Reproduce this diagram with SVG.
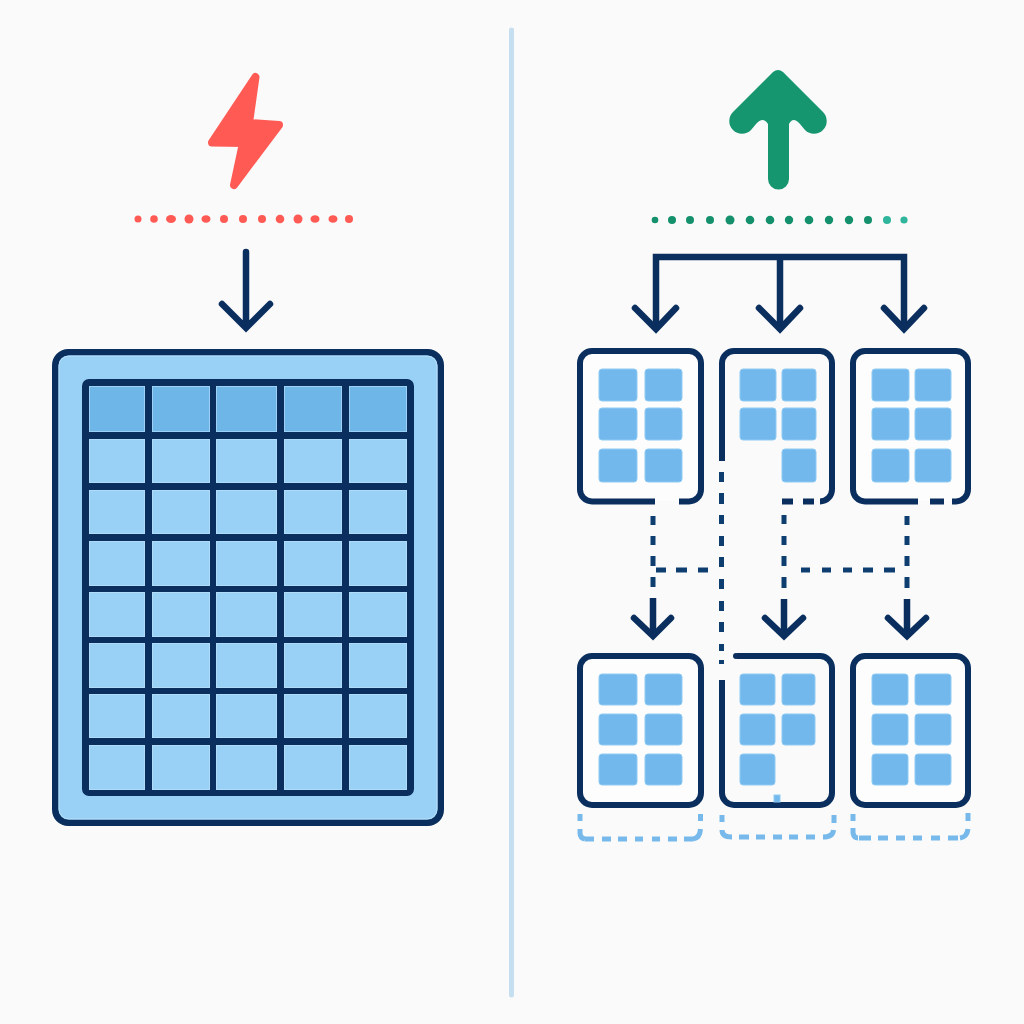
<svg xmlns="http://www.w3.org/2000/svg" width="1024" height="1024" viewBox="0 0 1024 1024">
<defs>
<style>
.ln{fill:none;stroke:#0A2F5E;stroke-width:6.500;stroke-linecap:round;stroke-linejoin:miter}
.dash{fill:none;stroke:#0E3E70;stroke-width:5;stroke-linecap:butt}
.card{fill:#FDFDFD;stroke:none}
.edge{fill:none;stroke:#0A2F5E;stroke-width:6;stroke-linecap:butt}
.sq{fill:#72B8EC;stroke:#8FCBF3;stroke-width:1}
.c{fill:#99D0F5;stroke:#B0DCF9;stroke-width:1}
.h{fill:#6EB5E8;stroke:#9DD2F6;stroke-width:1}
.tray{fill:none;stroke:#76B9EA;stroke-width:5;stroke-linecap:butt}
.r{fill:#FF5A54}
.g{fill:#15906C}
.t{fill:#2FB59B}
</style>
</defs>
<rect width="1024" height="1024" fill="#FAFAFA"/>
<line id="divider" x1="511.500" y1="30" x2="511.500" y2="995" stroke="#C5DFF0" stroke-width="5" stroke-linecap="round"/>

<g id="bolt"><path d="M255.500 77 L249 123 L279 125 L234 185 L243 143 L212 142.500 Z" fill="#FF5A54" stroke="#FF5A54" stroke-width="8" stroke-linejoin="round"/></g>
<g id="red-dots" class="r">
<circle cx="138" cy="219" r="3.500"/><circle cx="154" cy="219" r="3.800"/><ellipse cx="171" cy="219" rx="5" ry="4"/><circle cx="189" cy="219" r="4.500"/><ellipse cx="206" cy="219" rx="4.500" ry="3.800"/><circle cx="224" cy="219" r="4"/><circle cx="243" cy="219" r="4"/><circle cx="262" cy="219" r="4"/><circle cx="280" cy="219" r="4.300"/><circle cx="298" cy="219" r="4.500"/><ellipse cx="315" cy="219" rx="4.500" ry="3.800"/><ellipse cx="333" cy="219" rx="4.500" ry="3.800"/><circle cx="349" cy="219" r="4"/>
</g>

<g id="up-arrow"><path d="M773 72 Q778 68 783 72 L823 112 A12 12 0 0 1 805 130 L800 124 Q793 116 789 124 V179 A10.500 10.500 0 0 1 768 179 V124 Q763 116 756 124 L751 130 A12 12 0 0 1 733 112 Z" fill="#15966F"/></g>
<g id="green-dots">
<circle class="g" cx="655" cy="220" r="3.300"/><circle class="g" cx="672" cy="220" r="4"/><circle class="g" cx="690" cy="220" r="4"/><circle class="g" cx="710" cy="220" r="4"/><circle class="g" cx="730" cy="220" r="4.500"/><circle class="g" cx="750" cy="220" r="4.300"/><circle class="g" cx="770" cy="220" r="4.300"/><circle class="g" cx="789" cy="220" r="4.200"/><circle class="g" cx="809" cy="220" r="4.300"/><circle class="g" cx="829" cy="220" r="4.200"/><circle class="g" cx="849" cy="220" r="4.200"/><circle class="g" cx="868" cy="220" r="4"/><circle class="t" cx="887" cy="220" r="4"/><circle class="t" cx="904" cy="220" r="3.600"/>
</g>

<g id="monolith">
<rect x="55.250" y="352.250" width="385.500" height="470.500" rx="13" fill="#99D0F5" stroke="#0A2F5E" stroke-width="6.500"/>
<rect x="59" y="356" width="378" height="463" rx="10" fill="none" stroke="#B8E0FA" stroke-width="1"/>
<rect x="85" y="382" width="326" height="411" rx="4" fill="#0A2F5E" stroke="#0A2F5E" stroke-width="6"/>
<g class="h"><rect x="89.500" y="386.500" width="55" height="45"/><rect x="152.500" y="386.500" width="57" height="45"/><rect x="216.500" y="386.500" width="60" height="45"/><rect x="284.500" y="386.500" width="57" height="45"/><rect x="349.500" y="386.500" width="57" height="45"/></g>
<g class="c">
<rect x="89.500" y="439.500" width="55" height="43"/><rect x="152.500" y="439.500" width="57" height="43"/><rect x="216.500" y="439.500" width="60" height="43"/><rect x="284.500" y="439.500" width="57" height="43"/><rect x="349.500" y="439.500" width="57" height="43"/>
<rect x="89.500" y="490.500" width="55" height="43"/><rect x="152.500" y="490.500" width="57" height="43"/><rect x="216.500" y="490.500" width="60" height="43"/><rect x="284.500" y="490.500" width="57" height="43"/><rect x="349.500" y="490.500" width="57" height="43"/>
<rect x="89.500" y="541.500" width="55" height="44"/><rect x="152.500" y="541.500" width="57" height="44"/><rect x="216.500" y="541.500" width="60" height="44"/><rect x="284.500" y="541.500" width="57" height="44"/><rect x="349.500" y="541.500" width="57" height="44"/>
<rect x="89.500" y="592.500" width="55" height="44"/><rect x="152.500" y="592.500" width="57" height="44"/><rect x="216.500" y="592.500" width="60" height="44"/><rect x="284.500" y="592.500" width="57" height="44"/><rect x="349.500" y="592.500" width="57" height="44"/>
<rect x="89.500" y="643.500" width="55" height="44"/><rect x="152.500" y="643.500" width="57" height="44"/><rect x="216.500" y="643.500" width="60" height="44"/><rect x="284.500" y="643.500" width="57" height="44"/><rect x="349.500" y="643.500" width="57" height="44"/>
<rect x="89.500" y="694.500" width="55" height="43"/><rect x="152.500" y="694.500" width="57" height="43"/><rect x="216.500" y="694.500" width="60" height="43"/><rect x="284.500" y="694.500" width="57" height="43"/><rect x="349.500" y="694.500" width="57" height="43"/>
<rect x="89.500" y="745.500" width="55" height="44"/><rect x="152.500" y="745.500" width="57" height="44"/><rect x="216.500" y="745.500" width="60" height="44"/><rect x="284.500" y="745.500" width="57" height="44"/><rect x="349.500" y="745.500" width="57" height="44"/>
</g>
</g>

<g id="shard-top-1">
<rect class="card" x="580" y="351" width="121" height="150" rx="12"/>
<path class="edge" d="M655 501.500 H592 A12 12 0 0 1 580 489.500 V363 A12 12 0 0 1 592 351 H689 A12 12 0 0 1 701 363 V489.500 A12 12 0 0 1 689 501.500 H679"/>
<rect class="sq" x="599" y="369" width="38" height="32" rx="3"/><rect class="sq" x="645" y="369" width="37" height="32" rx="3"/>
<rect class="sq" x="599" y="408" width="38" height="32" rx="3"/><rect class="sq" x="645" y="408" width="37" height="32" rx="3"/>
<rect class="sq" x="599" y="449" width="38" height="33" rx="3"/><rect class="sq" x="645" y="449" width="37" height="33" rx="3"/>
</g>
<g id="shard-top-2">
<path class="edge" d="M722 461 V363 A12 12 0 0 1 734 351 H820 A12 12 0 0 1 832 363 V489.500 A12 12 0 0 1 820 501.500 H821 M814 501.500 H803 M793 501.500 H782"/>
<rect class="sq" x="740" y="369" width="36" height="32" rx="3"/><rect class="sq" x="782" y="369" width="34" height="32" rx="3"/>
<rect class="sq" x="740" y="408" width="36" height="32" rx="3"/><rect class="sq" x="782" y="408" width="34" height="32" rx="3"/>
<rect class="sq" x="782" y="449" width="34" height="33" rx="3"/>
</g>
<g id="shard-top-3">
<rect class="card" x="853" y="351" width="115" height="150" rx="12"/>
<path class="edge" d="M918 501.500 H865 A12 12 0 0 1 853 489.500 V363 A12 12 0 0 1 865 351 H956 A12 12 0 0 1 968 363 V489.500 A12 12 0 0 1 956 501.500 H952 M944 501.500 H930"/>
<rect class="sq" x="872" y="369" width="37" height="32" rx="3"/><rect class="sq" x="915" y="369" width="36" height="32" rx="3"/>
<rect class="sq" x="872" y="408" width="37" height="32" rx="3"/><rect class="sq" x="915" y="408" width="36" height="32" rx="3"/>
<rect class="sq" x="872" y="449" width="37" height="33" rx="3"/><rect class="sq" x="915" y="449" width="36" height="33" rx="3"/>
</g>

<g id="shard-bottom-1">
<rect class="card" x="580" y="656" width="121" height="149" rx="12"/>
<rect x="580" y="656" width="121" height="149" rx="12" fill="none" stroke="#0A2F5E" stroke-width="6"/>
<rect class="sq" x="599" y="674" width="38" height="31" rx="3"/><rect class="sq" x="645" y="674" width="37" height="31" rx="3"/>
<rect class="sq" x="599" y="714" width="38" height="31" rx="3"/><rect class="sq" x="645" y="714" width="37" height="31" rx="3"/>
<rect class="sq" x="599" y="754" width="38" height="31" rx="3"/><rect class="sq" x="645" y="754" width="37" height="31" rx="3"/>
</g>
<g id="shard-bottom-2">
<path class="edge" d="M722 680 V793 A12 12 0 0 0 734 805 H820 A12 12 0 0 0 832 793 V668 A12 12 0 0 0 820 656 H737"/>
<circle cx="736" cy="656" r="3" fill="#0A2F5E"/>
<rect class="sq" x="740" y="674" width="35" height="31" rx="3"/><rect class="sq" x="782" y="674" width="33" height="31" rx="3"/>
<rect class="sq" x="740" y="714" width="35" height="31" rx="3"/><rect class="sq" x="782" y="714" width="33" height="31" rx="3"/>
<rect class="sq" x="740" y="754" width="35" height="31" rx="3"/>
<rect class="sq" x="774" y="795" width="6" height="7"/>
</g>
<g id="shard-bottom-3">
<rect class="card" x="853" y="656" width="115" height="149" rx="12"/>
<rect x="853" y="656" width="115" height="149" rx="12" fill="none" stroke="#0A2F5E" stroke-width="6"/>
<rect class="sq" x="872" y="674" width="36" height="31" rx="3"/><rect class="sq" x="915" y="674" width="36" height="31" rx="3"/>
<rect class="sq" x="872" y="714" width="36" height="31" rx="3"/><rect class="sq" x="915" y="714" width="36" height="31" rx="3"/>
<rect class="sq" x="872" y="754" width="36" height="31" rx="3"/><rect class="sq" x="915" y="754" width="36" height="31" rx="3"/>
</g>

<g id="tray-1"><path class="tray" d="M580 814 V821 M580 829 V833 Q580 838 585 839 M585 839 H594 M602 839 H611 M618 839 H627 M635 839 H643 M652 839 H660 M668 839 H677 M684 839 H693 M700.500 814 V821 M693 839 Q700 838 700.500 829"/></g>
<g id="tray-2"><path class="tray" d="M722 815 V822 M834 815 V823 M722 830 Q722 837 732 837 M739 837 H749 M756 837 H765 M773 837 H782 M789 837 H798 M806 837 H815 M823 837 Q833 837 833.500 830"/></g>
<g id="tray-3"><path class="tray" d="M853 814 V821 M968 813 V821 M853 828 V833 Q854 838 858 838 M859 838 H871 M878 838 H888 M896 838 H905 M913 838 H922 M931 838 H940 M948 838 H958 M960 838 Q967 837 968 829"/></g>

<g id="connectors">
<path class="ln" d="M246 252 V327 M222 304 L246 328 L270 304"/>
<path class="ln" style="stroke-linecap:square" d="M656 257 H904 M656 257 V325 M780 257 V325 M904 257 V325"/>
<path class="ln" d="M635 308 L656 329 L676 308 M759 308 L780 329 L800 308 M884 308 L904 329 L924 308"/>
<path class="dash" d="M653 516 V525 M653 536 V545 M653 556 V566 M653 577 V587 M656 570 H666 M676 570 H687 M698 570 H708"/>
<path class="dash" d="M784 515 V524 M784 536 V545 M784 556 V566 M784 577 V588 M801 570 H810 M822 570 H831 M843 570 H852 M863 570 H873 M884 570 H895"/>
<path class="dash" d="M907 516 V525 M907 536 V545 M907 556 V566 M907 577 V588"/>
<path class="dash" d="M721.500 472 V482 M721.500 493 V504 M721.500 515 V524 M721.500 536 V546 M721.500 557 V567 M721.500 579 V589 M721.500 601 V611 M721.500 622 V632 M721.500 644 V651 M721.500 660 V664"/>
<path class="ln" style="stroke-linecap:butt" d="M653 598 V636 M784 599 V636 M907 599 V636"/>
<path class="ln" d="M634 618 L653 636 L671 618 M765 618 L784 636 L803 618 M888 618 L907 636 L926 618"/>
</g>
</svg>
